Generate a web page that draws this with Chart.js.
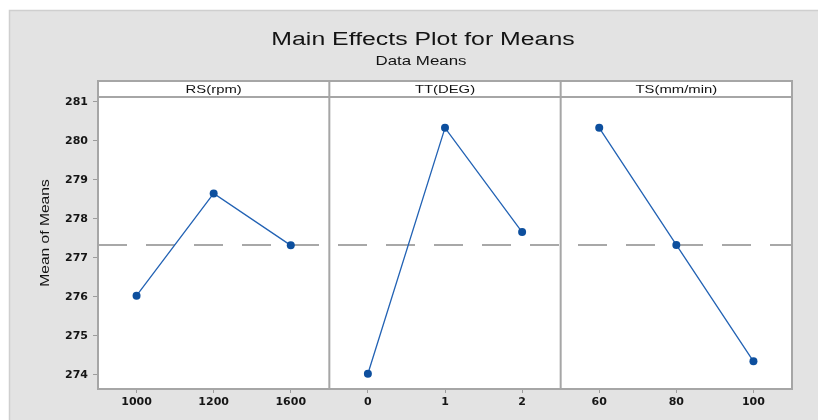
<!DOCTYPE html>
<html>
<head>
<meta charset="utf-8">
<script src="https://cdn.jsdelivr.net/npm/chart.js@4/dist/chart.umd.min.js"></script>
<style>
  html, body { margin: 0; padding: 0; background: #fff; }
  #wrap { width: 818px; height: 420px; }
</style>
</head>
<body>
<div id="wrap"><canvas id="c" width="818" height="420"></canvas></div>
<script>
// Factors and their level labels
const factorNames = ['RS(rpm)', 'TT(DEG)', 'TS(mm/min)'];
const rsLevels = ['1000', '1200', '1600'];
const ttLevels = ['0', '1', '2'];
const tsLevels = ['60', '80', '100'];

// Mean of means at each level
const rsMeans = [276.03, 278.65, 277.32];
const ttMeans = [274.03, 280.33, 277.66];
const tsMeans = [280.33, 277.33, 274.35];

// Grand mean (dashed reference line) and y-axis ticks
const grandMean = 277.33;
const yTicks = [274, 275, 276, 277, 278, 279, 280, 281];

const levelSets = [rsLevels, ttLevels, tsLevels];
const meanSets = [rsMeans, ttMeans, tsMeans];
const allLevels = [].concat(rsLevels, ttLevels, tsLevels);

// Each factor occupies 3 units on a shared linear x scale; levels sit at the half units.
const panelSeries = meanSets.map((means, p) => ({
  label: factorNames[p],
  data: means.map((m, i) => ({ x: p * 3 + i + 0.5, y: m })),
  borderColor: '#2262b4',
  borderWidth: 1.3,
  backgroundColor: '#0d4f9e',
  pointBackgroundColor: '#0d4f9e',
  pointBorderColor: '#0d4f9e',
  pointBorderWidth: 0,
  pointRadius: 4,
  tension: 0,
  order: 1
}));

const meanLine = {
  label: 'Grand mean',
  data: [{ x: 0, y: grandMean }, { x: 9, y: grandMean }],
  borderColor: '#8c8c8c',
  borderWidth: 1.5,
  borderDash: [29, 19],
  pointRadius: 0,
  order: 10
};

function stretchedText(ctx, text, x, y, font, sx, angle) {
  ctx.save();
  ctx.font = font;
  ctx.fillStyle = '#141414';
  ctx.textAlign = 'center';
  ctx.textBaseline = 'middle';
  ctx.translate(x, y);
  if (angle) ctx.rotate(angle);
  ctx.scale(sx, 1);
  ctx.fillText(text, 0, 0);
  ctx.restore();
}

const framePlugin = {
  id: 'framePlugin',
  beforeDraw(chart) {
    const { ctx, chartArea: a, width, height } = chart;
    ctx.save();
    ctx.fillStyle = '#ffffff';
    ctx.fillRect(0, 0, width, height);
    ctx.fillStyle = '#e3e3e3';
    ctx.fillRect(9, 10, width - 9, height - 10);
    ctx.strokeStyle = '#cfcfcf';
    ctx.lineWidth = 1.5;
    ctx.strokeRect(9.5, 10.5, width, height);
    ctx.fillStyle = '#ffffff';
    ctx.fillRect(a.left, a.top - 16, a.right - a.left, a.bottom - a.top + 16);
    ctx.restore();
  },
  afterDraw(chart) {
    const { ctx, chartArea: a, scales } = chart;
    const x = scales.x;
    const headTop = a.top - 16;
    ctx.save();
    ctx.strokeStyle = '#a6a6a6';
    ctx.lineWidth = 2;
    ctx.strokeRect(a.left, headTop, a.right - a.left, a.bottom - headTop);
    ctx.beginPath();
    ctx.moveTo(a.left, a.top);
    ctx.lineTo(a.right, a.top);
    [3, 6].forEach(v => {
      const px = x.getPixelForValue(v);
      ctx.moveTo(px, headTop);
      ctx.lineTo(px, a.bottom);
    });
    ctx.stroke();
    ctx.restore();

    // Factor names in the header strips
    factorNames.forEach((name, p) => {
      const cx = x.getPixelForValue(p * 3 + 1.5);
      stretchedText(ctx, name, cx, headTop + 8.5, '11px "Liberation Sans", Arial, sans-serif', 1.35);
    });

    // Titles
    stretchedText(ctx, 'Main Effects Plot for Means', 423, 40, '18px "Liberation Sans", Arial, sans-serif', 1.38);
    stretchedText(ctx, 'Data Means', 421, 61, '13px "Liberation Sans", Arial, sans-serif', 1.3);

    // Y-axis title
    stretchedText(ctx, 'Mean of Means', 46, (a.top + a.bottom) / 2 - 10, '12px "Liberation Sans", Arial, sans-serif', 1.3, -Math.PI / 2);
  }
};

const tickFont = { family: '"DejaVu Sans", sans-serif', size: 11, weight: 'bold' };

new Chart(document.getElementById('c'), {
  type: 'line',
  data: { datasets: [meanLine, ...panelSeries] },
  options: {
    responsive: false,
    animation: false,
    devicePixelRatio: 1,
    layout: { padding: { top: 97, right: 26, left: 0, bottom: 0 } },
    plugins: {
      legend: { display: false },
      tooltip: { enabled: false },
      title: { display: false }
    },
    scales: {
      x: {
        type: 'linear',
        min: 0,
        max: 9,
        afterBuildTicks(s) {
          s.ticks = allLevels.map((_, i) => ({ value: i + 0.5 }));
        },
        afterFit(s) { s.height = 31; },
        ticks: {
          autoSkip: false,
          maxRotation: 0,
          padding: 3,
          color: '#151515',
          font: tickFont,
          callback: v => allLevels[Math.floor(v)]
        },
        grid: { drawOnChartArea: false, drawTicks: true, tickLength: 4, color: '#9c9c9c' },
        border: { display: true, color: '#a6a6a6', width: 2 }
      },
      y: {
        type: 'linear',
        min: 273.64,
        max: 281.12,
        afterBuildTicks(s) {
          s.ticks = yTicks.map(v => ({ value: v }));
        },
        afterFit(s) { s.width = 98; },
        ticks: {
          padding: 5,
          color: '#151515',
          font: tickFont
        },
        grid: { drawOnChartArea: false, drawTicks: true, tickLength: 5, color: '#9c9c9c' },
        border: { display: true, color: '#a6a6a6', width: 2 }
      }
    }
  },
  plugins: [framePlugin]
});
</script>
</body>
</html>
